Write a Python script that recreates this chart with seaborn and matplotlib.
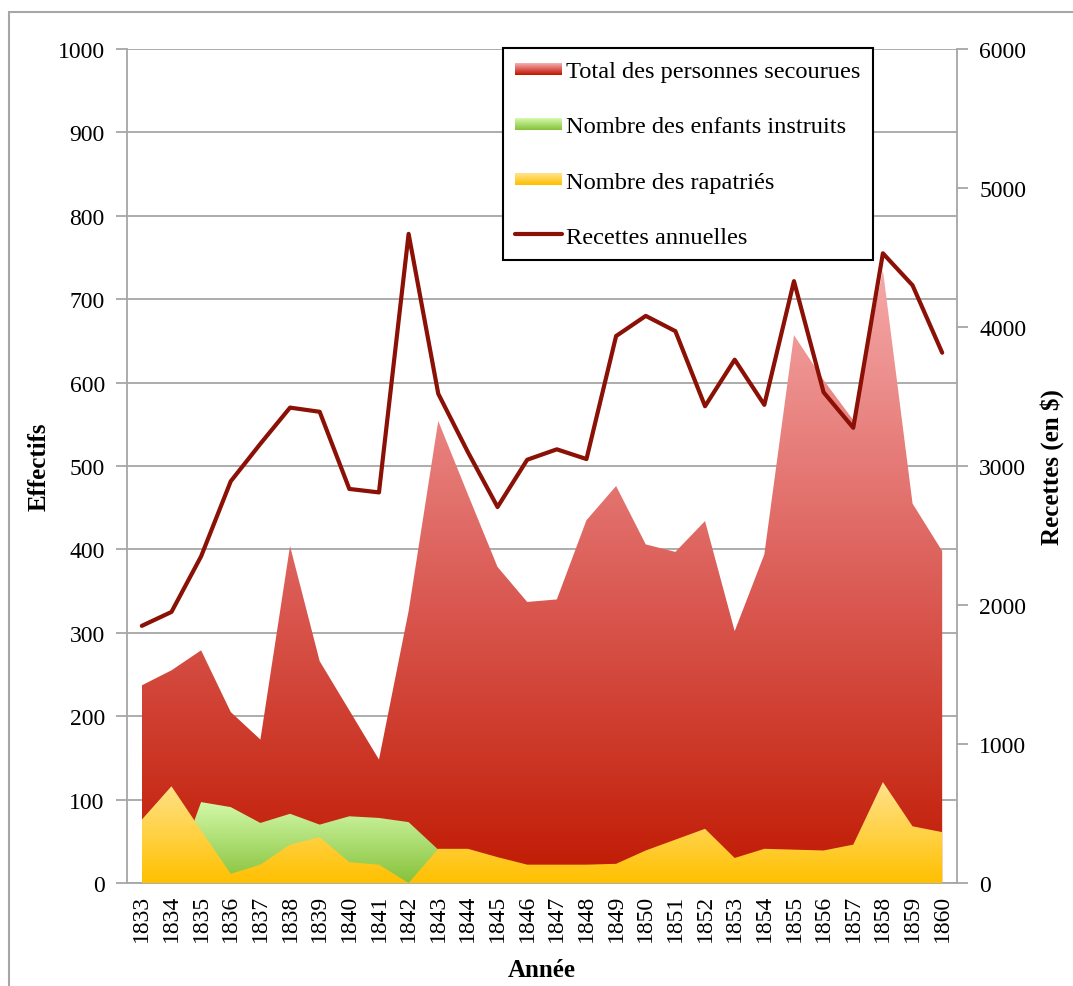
import numpy as np
import pandas as pd
import seaborn as sns
import matplotlib
matplotlib.use("Agg")
import matplotlib.pyplot as plt
from matplotlib.colors import LinearSegmentedColormap
from matplotlib.patches import Rectangle
from matplotlib.lines import Line2D
from matplotlib.legend_handler import HandlerBase

years = [str(y) for y in range(1833, 1861)]
total = [237, 255, 279, 205, 172, 404, 266, 207, 148, 326,
         554, 466, 379, 337, 340, 435, 476, 406, 397, 434,
         302, 394, 657, 603, 555, 735, 455, 398]
enfants = [0, 0, 97, 91, 72, 83, 70, 80, 78, 73,
           40, 0, 0, 0, 0, 0, 0, 0, 0, 0,
           0, 0, 0, 0, 0, 0, 0, 0]
rapatries = [76, 116, 63, 11, 22, 46, 55, 25, 22, 0,
             41, 41, 31, 22, 22, 22, 23, 39, 52, 65,
             30, 41, 40, 39, 46, 121, 68, 61]
recettes = [1850, 1950, 2350, 2890, 3160, 3420, 3390, 2835, 2810, 4670,
            3520, 3100, 2705, 3045, 3120, 3050, 3935, 4080, 3970, 3430,
            3765, 3440, 4330, 3530, 3275, 4530, 4300, 3815]

df = pd.DataFrame({"annee": years, "pos": np.arange(len(years)),
                   "total": total, "enfants": enfants,
                   "rapatries": rapatries, "recettes": recettes})

sns.set_style("white")
plt.rcParams["font.family"] = ["Liberation Serif", "DejaVu Serif"]
plt.rcParams["text.color"] = "black"
plt.rcParams["xtick.labelcolor"] = "black"
plt.rcParams["ytick.labelcolor"] = "black"
plt.rcParams["axes.labelcolor"] = "black"

red_cmap = LinearSegmentedColormap.from_list("red", ["#C01A02", "#DC5E58", "#F5A9A9"])
green_cmap = LinearSegmentedColormap.from_list("green", ["#86C23A", "#D2F8A8"])
yellow_cmap = LinearSegmentedColormap.from_list("yellow", ["#FFC000", "#FFE38C"])
grid_col = "#A6A6A6"
line_col = "#8B1005"

fig = plt.figure(figsize=(10.73, 9.87), dpi=100)
ax = fig.add_axes([127 / 1073, 1 - 884 / 987, (957 - 127) / 1073, (884 - 50) / 987])


def gradient_area(ax, x, y, cmap, z):
    y = np.asarray(y, dtype=float)
    poly = ax.fill_between(x, 0, y, facecolor="none", edgecolor="none", zorder=z)
    grad = np.linspace(0, 1, 256).reshape(-1, 1)
    im = ax.imshow(grad, extent=[x.min(), x.max(), 0, y.max()], origin="lower",
                   aspect="auto", cmap=cmap, zorder=z, interpolation="bilinear")
    im.set_clip_path(poly.get_paths()[0], transform=ax.transData)


x = df["pos"].values
gradient_area(ax, x, df["total"], red_cmap, 2)
gradient_area(ax, x, df["enfants"], green_cmap, 3)
gradient_area(ax, x, df["rapatries"], yellow_cmap, 4)

ax.set_xlim(-0.5, len(years) - 0.5)
ax.set_ylim(0, 1000)
ax.set_yticks(np.arange(0, 1001, 100))
ax.yaxis.grid(True, color=grid_col, lw=1.3, zorder=1)
ax.set_axisbelow(True)
ax.set_xticks(x)
ax.set_xticklabels(years, rotation=90)
ax.set_xticks(np.arange(-0.5, len(years)), minor=True)
ax.tick_params(axis="x", which="major", length=0, pad=8, labelsize=17)
ax.tick_params(axis="x", which="minor", length=7, width=1.3, color=grid_col, direction="out")
ax.tick_params(axis="y", length=8, width=1.3, color=grid_col, direction="out", pad=8, labelsize=17)
for s in ["top", "right"]:
    ax.spines[s].set_visible(False)
for s in ["left", "bottom"]:
    ax.spines[s].set_color(grid_col)
    ax.spines[s].set_linewidth(1.3)
ax.set_xlabel("Année", fontsize=18, fontweight="bold", labelpad=12)
ax.set_ylabel("Effectifs", fontsize=18, fontweight="bold", labelpad=5)

ax2 = ax.twinx()
sns.lineplot(data=df, x="pos", y="recettes", ax=ax2, color=line_col, lw=3,
             legend=False, zorder=5)
ax2.set_ylim(0, 6000)
ax2.set_yticks(np.arange(0, 6001, 1000))
ax2.set_xlim(-0.5, len(years) - 0.5)
ax2.tick_params(axis="y", length=8, width=1.3, color=grid_col, direction="out", pad=8, labelsize=17)
for s in ["top", "left", "bottom"]:
    ax2.spines[s].set_visible(False)
ax2.spines["right"].set_color(grid_col)
ax2.spines["right"].set_linewidth(1.3)
ax2.set_ylabel("Recettes (en $)", fontsize=18, fontweight="bold", labelpad=10)
ax2.set_xlabel("")


class GradientHandler(HandlerBase):
    def __init__(self, cmap):
        super().__init__()
        self.cmap = cmap

    def create_artists(self, legend, orig, xd, yd, width, height, fontsize, trans):
        n = 12
        h = height * 0.7
        y0 = yd + (height - h) / 2
        arts = []
        for i in range(n):
            r = Rectangle((xd, y0 + i * h / n), width, h / n + 0.2,
                          facecolor=self.cmap(i / (n - 1)), edgecolor="none", transform=trans)
            arts.append(r)
        return arts


h_total = Rectangle((0, 0), 1, 1)
h_enf = Rectangle((0, 0), 1, 1)
h_rap = Rectangle((0, 0), 1, 1)
h_line = Line2D([], [], color=line_col, lw=3)
leg = ax2.legend([h_total, h_enf, h_rap, h_line],
                 ["Total des personnes secourues", "Nombre des enfants instruits",
                  "Nombre des rapatriés", "Recettes annuelles"],
                 handler_map={h_total: GradientHandler(red_cmap),
                              h_enf: GradientHandler(green_cmap),
                              h_rap: GradientHandler(yellow_cmap)},
                 loc="upper left", bbox_to_anchor=(503 / 1073, 1 - 49 / 987),
                 bbox_transform=fig.transFigure, borderaxespad=0,
                 fontsize=17.6, handlelength=1.9, handletextpad=0.18,
                 labelspacing=1.35, borderpad=0.5, fancybox=False, framealpha=1,
                 edgecolor="black")
leg.get_frame().set_linewidth(1.5)
leg.set_zorder(10)

fig.patches.append(Rectangle((9 / 1073, -0.1), 2, 1 - 13 / 987 + 0.1, transform=fig.transFigure,
                             fill=False, edgecolor="#A6A6A6", lw=1.5))

fig.savefig("out.png", dpi=100)
